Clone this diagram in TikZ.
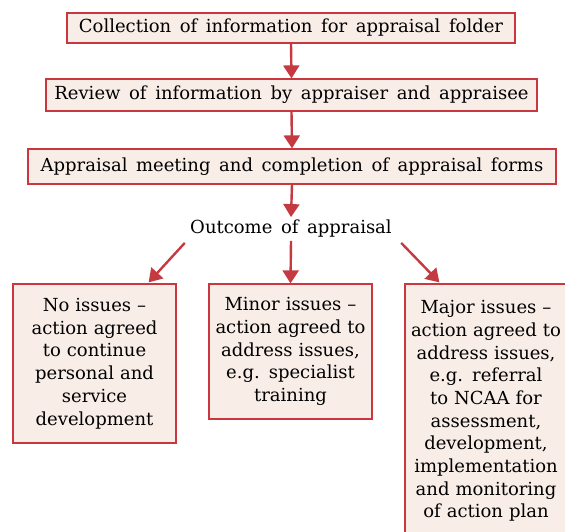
\documentclass[tikz,border=0pt]{standalone}
\usepackage{fontspec}
\setmainfont{DejaVu Serif}
\usetikzlibrary{arrows.meta,calc}
\definecolor{boxfill}{HTML}{F9EDE8}
\definecolor{boxline}{HTML}{C8383E}
\definecolor{arrowc}{HTML}{C43A40}
\newcommand{\bigtxt}{\fontsize{18}{22.7}\selectfont}
\newcommand{\widetxt}{\fontsize{18}{22.7}\selectfont\spaceskip=8.6pt plus 1pt minus 1pt\relax}
\begin{document}
\begin{tikzpicture}[x=1pt,y=-1pt,
  box/.style={draw=boxline,fill=boxfill,line width=1.2pt,inner sep=0pt,font=\widetxt},
  tallbox/.style={draw=boxline,fill=boxfill,line width=1.2pt,inner sep=0pt,
    font=\bigtxt,align=center,text width=158pt},
  flow/.style={draw=arrowc,line width=2.4pt,-{Triangle[width=16pt,length=13pt]}}]
\useasboundingbox (0,0) rectangle (565,532);
\node[box,minimum width=448pt,minimum height=30pt] (a) at (291,28) {Collection of information for appraisal folder};
\node[box,minimum width=491pt,minimum height=32pt] (b) at (291.5,95) {Review of information by appraiser and appraisee};
\node[box,minimum width=528pt,minimum height=35pt] (c) at (292,166.5) {Appraisal meeting and completion of appraisal forms};
\node[font=\widetxt,inner sep=3pt,minimum width=216pt] (o) at (291,229) {Outcome of appraisal};
\node[tallbox,minimum width=163pt,minimum height=159pt] (b1) at (94.5,363.5) {No issues –\\action agreed\\to continue\\personal and\\service\\development};
\node[tallbox,minimum width=163pt,minimum height=135pt] (b2) at (290.5,351.5) {Minor issues –\\action agreed to\\address issues,\\e.g. specialist\\training};
\node[tallbox,minimum width=162pt,minimum height=254pt] (b3) at (486,411) {Major issues –\\action agreed to\\address issues,\\e.g. referral\\to NCAA for\\assessment,\\development,\\implementation\\and monitoring\\of action plan};
\draw[flow] (a.south) -- (b.north);
\draw[flow] (b.south) -- (c.north);
\draw[flow] (c.south) -- (o.north);
\draw[flow] ($(o.south west)+(2,2)$) -- ($(b1.north east)+(-28,-1)$);
\draw[flow] (o.south) -- (b2.north);
\draw[flow] ($(o.south east)+(2,2)$) -- ($(b3.north west)+(35,-1)$);
\end{tikzpicture}
\end{document}
